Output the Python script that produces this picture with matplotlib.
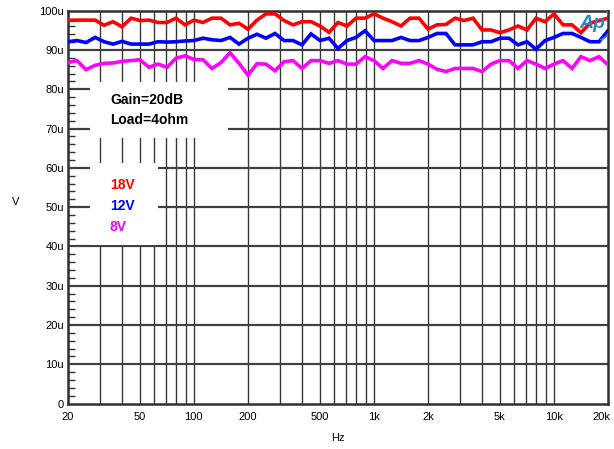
import matplotlib
matplotlib.use('Agg')
import matplotlib.pyplot as plt
import matplotlib.transforms as mtransforms
from matplotlib.patches import Rectangle, Arc
from matplotlib.ticker import FixedLocator, MultipleLocator, FuncFormatter, NullFormatter

plt.rcParams['font.family'] = ['Liberation Sans', 'DejaVu Sans']

# sweep frequencies (Hz), 20 steps per decade
freq = [20.0, 22.4, 25.2, 28.3, 31.7, 35.6, 39.9, 44.8, 50.2, 56.4,
        63.2, 71.0, 79.6, 89.3, 100.2, 112.5, 126.2, 141.6, 158.9, 178.3,
        200.0, 224.4, 251.8, 282.5, 317.0, 355.7, 399.1, 447.8, 502.4, 563.7,
        632.5, 709.7, 796.3, 893.5, 1002.5, 1124.8, 1262.1, 1416.1, 1588.9, 1782.8,
        2000.0, 2244.1, 2517.9, 2825.1, 3169.8, 3556.6, 3990.5, 4477.4, 5023.8, 5636.8,
        6324.6, 7096.4, 7962.1, 8933.7, 10023.7, 11246.8, 12619.1, 14158.9, 15886.6, 17825.2,
        20000.0]

# output noise in uV
v18 = [97.5, 97.6, 97.6, 97.6, 96.3, 97.2, 95.9, 98.1, 97.5, 97.6,
       97.0, 97.0, 98.1, 96.4, 97.6, 97.0, 98.1, 98.1, 96.4, 96.8,
       95.3, 97.6, 99.2, 99.2, 97.5, 96.4, 97.2, 97.2, 96.1, 94.5,
       97.0, 96.1, 98.1, 98.1, 99.2, 98.1, 97.2, 96.1, 98.1, 98.1,
       95.3, 96.4, 96.5, 98.1, 97.5, 98.1, 95.1, 95.1, 94.4, 95.1,
       96.1, 95.1, 98.1, 97.2, 99.2, 96.4, 96.4, 94.4, 96.8, 97.5,
       98.1]
v12 = [92.1, 92.4, 91.9, 93.2, 92.1, 91.5, 92.2, 91.5, 91.5, 91.5,
       92.1, 92.0, 92.1, 92.3, 92.4, 93.0, 92.6, 92.4, 93.2, 91.5,
       93.0, 94.0, 93.0, 94.2, 92.4, 92.4, 91.3, 94.1, 92.4, 93.0,
       90.4, 92.4, 93.2, 94.9, 92.4, 92.4, 92.4, 93.2, 92.4, 92.4,
       93.2, 94.2, 94.2, 91.3, 91.3, 91.3, 92.1, 92.1, 93.0, 93.0,
       91.3, 92.1, 90.2, 92.4, 93.2, 94.2, 94.2, 93.2, 92.1, 92.1,
       94.9]
v8 = [86.8, 87.3, 85.0, 86.1, 86.6, 86.7, 87.1, 87.3, 87.5, 85.6,
      86.4, 85.6, 87.9, 88.5, 87.6, 87.5, 85.3, 86.8, 89.3, 86.6,
      83.6, 86.5, 86.4, 84.7, 87.0, 87.3, 85.3, 87.3, 87.3, 86.6,
      87.3, 86.4, 86.4, 88.3, 87.3, 85.3, 87.3, 86.6, 86.6, 87.3,
      86.4, 85.1, 84.5, 85.3, 85.3, 85.3, 84.5, 86.4, 87.3, 87.3,
      85.3, 87.3, 86.4, 85.3, 86.4, 87.3, 85.3, 88.3, 87.3, 88.3,
      86.2]

series = [(v18, '#ff0000', '18V'), (v12, '#0000ff', '12V'), (v8, '#ff00ff', '8V')]

xticks = [20, 50, 100, 200, 500, 1000, 2000, 5000, 10000, 20000]
xticklabels = ['20', '50', '100', '200', '500', '1k', '2k', '5k', '10k', '20k']
vgrid = [30, 40, 50, 60, 70, 80, 90, 100, 200, 300, 400, 500, 600, 700, 800, 900,
         1000, 2000, 3000, 4000, 5000, 6000, 7000, 8000, 9000, 10000]

fig = plt.figure(figsize=(6.14, 4.49), dpi=100)
ax = fig.add_axes([68 / 614, 1 - 403.5 / 449, 540 / 614, 392.8 / 449])

ax.set_xscale('log')
ax.set_xlim(20, 20000)
ax.set_ylim(0, 100e-6)

# grid
for f in vgrid:
    ax.axvline(f, color='#383838', lw=1.0, zorder=1)
for k in range(1, 10):
    ax.axhline(k * 10e-6, color='#404040', lw=1.6, zorder=1)

# white boxes behind the notes
ax.add_patch(Rectangle(((90 - 68) / 540, (403.5 - 138) / 392.8), 138 / 540, 56 / 392.8,
                       transform=ax.transAxes, facecolor='white', edgecolor='none', zorder=2))
ax.add_patch(Rectangle(((90 - 68) / 540, (403.5 - 245) / 392.8), 68 / 540, 82 / 392.8,
                       transform=ax.transAxes, facecolor='white', edgecolor='none', zorder=2))

for vals, col, lab in series:
    ax.plot(freq, [v * 1e-6 for v in vals], color=col, lw=2.6, zorder=3,
            solid_joinstyle='miter')

ax.text((110 - 68) / 540, (403.5 - 100) / 392.8, 'Gain=20dB', transform=ax.transAxes,
        fontsize=10, fontweight='bold', va='center', ha='left', zorder=4)
ax.text((110 - 68) / 540, (403.5 - 120) / 392.8, 'Load=4ohm', transform=ax.transAxes,
        fontsize=10, fontweight='bold', va='center', ha='left', zorder=4)
for i, (vals, col, lab) in enumerate(series):
    ax.text((110 - 68) / 540, (403.5 - (185 + 21 * i)) / 392.8, lab, transform=ax.transAxes,
            fontsize=10, fontweight='bold', color=col, va='center', ha='left', zorder=4)

# Ap logo
ax.text((592 - 68) / 540, (403.5 - 24) / 392.8, 'Ap', transform=ax.transAxes,
        fontsize=14, fontstyle='italic', fontweight='bold', color='#2a86c0',
        va='center', ha='center', zorder=5)
ax.add_patch(Arc(((594 - 68) / 540, (403.5 - 23) / 392.8), 36 / 540, 36 / 392.8,
                 theta1=-75, theta2=85, transform=ax.transAxes, color='#2a86c0', lw=1.4, zorder=5))

# axes styling
ax.xaxis.set_major_locator(FixedLocator(xticks))
ax.xaxis.set_minor_locator(FixedLocator([]))
ax.set_xticklabels(xticklabels)
ax.xaxis.set_minor_formatter(NullFormatter())
ax.tick_params(axis='x', which='both', length=0, labelsize=8, pad=6)
last = ax.get_xticklabels()[-1]
last.set_transform(last.get_transform() + mtransforms.ScaledTranslation(-7 / 100, 0, fig.dpi_scale_trans))

ax.yaxis.set_major_locator(MultipleLocator(10e-6))
ax.yaxis.set_minor_locator(MultipleLocator(2e-6))
ax.yaxis.set_major_formatter(FuncFormatter(lambda v, p: '0' if v == 0 else '%du' % round(v * 1e6)))
ax.tick_params(axis='y', which='major', length=0, labelsize=8, pad=3)
ax.tick_params(axis='y', which='minor', direction='in', length=5, width=1.0, color='#333333')

for s in ax.spines.values():
    s.set_linewidth(1.8)
    s.set_color('#303030')

ax.set_xlabel('Hz', fontsize=8, labelpad=8)
ax.set_ylabel('V', fontsize=8, rotation=0, labelpad=0)
ax.yaxis.set_label_coords(-0.097, 0.5)

fig.savefig('out.png', dpi=100)
